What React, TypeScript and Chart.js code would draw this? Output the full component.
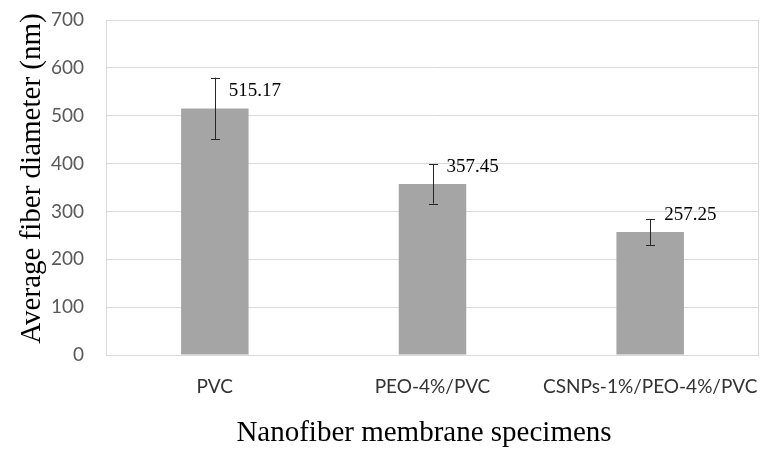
import React, { useEffect, useRef } from "react";
import { Chart, registerables } from "chart.js";

Chart.register(...registerables);

const categories = ["PVC", "PEO-4%/PVC", "CSNPs-1%/PEO-4%/PVC"];
const meanDiameters = [515.17, 357.45, 257.25];
const errorValues = [64.5, 41, 27];
const valueLabels = ["515.17", "357.45", "257.25"];
const yTicks = [0, 100, 200, 300, 400, 500, 600, 700];
const xAxisTitle = "Nanofiber membrane specimens";
const yAxisTitle = "Average fiber diameter (nm)";

const SERIF = "'Liberation Serif', 'Times New Roman', serif";
const SANS = "Lato, 'Liberation Sans', sans-serif";

const extrasPlugin = {
  id: "extras",
  beforeDatasetsDraw(chart: any) {
    const { ctx, chartArea } = chart;
    ctx.save();
    ctx.strokeStyle = "#d9d9d9";
    ctx.lineWidth = 1;
    ctx.strokeRect(
      Math.round(chartArea.left) + 0.5,
      Math.round(chartArea.top) + 0.5,
      Math.round(chartArea.right - chartArea.left) - 1,
      Math.round(chartArea.bottom - chartArea.top)
    );
    ctx.restore();
  },
  afterDatasetsDraw(chart: any) {
    const { ctx } = chart;
    const meta = chart.getDatasetMeta(0);
    const yScale = chart.scales.y;
    ctx.save();
    meta.data.forEach((bar: any, i: number) => {
      const v = meanDiameters[i];
      const e = errorValues[i];
      const x = Math.round(bar.x) + 0.5;
      const yTop = yScale.getPixelForValue(v + e);
      const yBot = yScale.getPixelForValue(v - e);
      ctx.strokeStyle = "#262626";
      ctx.lineWidth = 1;
      ctx.beginPath();
      ctx.moveTo(x, yTop);
      ctx.lineTo(x, yBot);
      ctx.moveTo(x - 4.5, Math.round(yTop) + 0.5);
      ctx.lineTo(x + 4.5, Math.round(yTop) + 0.5);
      ctx.moveTo(x - 4.5, Math.round(yBot) + 0.5);
      ctx.lineTo(x + 4.5, Math.round(yBot) + 0.5);
      ctx.stroke();
      ctx.fillStyle = "#000";
      ctx.font = `19px ${SERIF}`;
      ctx.textAlign = "left";
      ctx.textBaseline = "middle";
      ctx.fillText(valueLabels[i], bar.x + 14, bar.y - 17);
    });
    ctx.restore();
  },
  afterDraw(chart: any) {
    const { ctx } = chart;
    ctx.save();
    ctx.fillStyle = "#000";
    ctx.font = `29px ${SERIF}`;
    ctx.textAlign = "center";
    ctx.textBaseline = "alphabetic";
    ctx.fillText(xAxisTitle, 424, 441);
    ctx.translate(40, 178.5);
    ctx.rotate(-Math.PI / 2);
    ctx.fillText(yAxisTitle, 0, 0);
    ctx.restore();
  },
};

export default function App() {
  const canvasRef = useRef<HTMLCanvasElement | null>(null);

  useEffect(() => {
    if (!canvasRef.current) return;
    const chart = new Chart(canvasRef.current, {
      type: "bar",
      data: {
        labels: categories,
        datasets: [
          {
            data: meanDiameters,
            backgroundColor: "#a5a5a5",
            borderWidth: 0,
            barPercentage: 1,
            categoryPercentage: 0.31,
          },
        ],
      },
      options: {
        responsive: false,
        animation: false,
        devicePixelRatio: 1,
        layout: { padding: { top: 20, right: 1, left: 0, bottom: 0 } },
        plugins: {
          legend: { display: false },
          tooltip: { enabled: false },
          title: { display: false },
        },
        scales: {
          x: {
            afterFit: (s: any) => {
              s.height = 94;
              s.paddingLeft = 0;
              s.paddingRight = 0;
            },
            grid: { display: false, drawTicks: false },
            border: { display: false },
            ticks: {
              color: "#333333",
              font: { family: SANS, size: 19 },
              padding: 20,
              maxRotation: 0,
            },
            title: { display: false },
          },
          y: {
            min: 0,
            max: 700,
            afterFit: (s: any) => {
              s.width = 106;
              s.paddingTop = 0;
              s.paddingBottom = 0;
            },
            afterBuildTicks: (s: any) => {
              s.ticks = yTicks.map((v) => ({ value: v }));
            },
            grid: { color: "#d9d9d9", lineWidth: 1, drawTicks: false },
            border: { display: false },
            ticks: {
              color: "#595959",
              font: { family: SANS, size: 19 },
              padding: 22,
            },
            title: { display: false },
          },
        },
      },
      plugins: [extrasPlugin],
    });
    return () => chart.destroy();
  }, []);

  return (
    <div style={{ position: "absolute", left: 0, top: 0, width: 760, height: 449, background: "#fff" }}>
      <canvas ref={canvasRef} width={760} height={449} />
    </div>
  );
}
